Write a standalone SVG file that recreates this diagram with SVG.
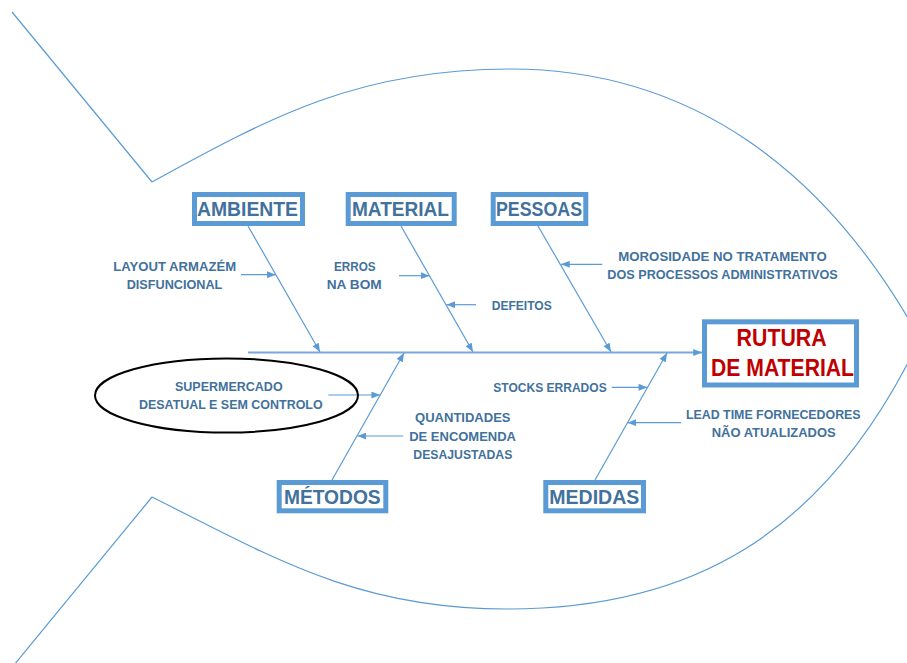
<svg xmlns="http://www.w3.org/2000/svg" width="907" height="663" viewBox="0 0 907 663">
  <defs>
    <marker id="arrow" viewBox="0 0 10 8" refX="10" refY="4" markerWidth="9" markerHeight="7" markerUnits="userSpaceOnUse" orient="auto">
      <path d="M0,0 L10,4 L0,8 z" fill="#5b9bd5"/>
    </marker>
    <style>
      .fish { fill: none; stroke: #5b9bd5; stroke-width: 1.2; }
      .spine { fill: none; stroke: #7aa7dc; stroke-width: 2; }
      .bone { fill: none; stroke: #5b9bd5; stroke-width: 1.2; }
      .cat { fill: #ffffff; stroke: #5b9bd5; stroke-width: 5; }
      .cat-text { font-family: "Liberation Sans", Arial, sans-serif; font-weight: bold; font-size: 20px; fill: #41719c; text-anchor: middle; }
      .head-text { font-family: "Liberation Sans", Arial, sans-serif; font-weight: bold; font-size: 23px; fill: #c00000; text-anchor: middle; }
      .cause { font-family: "Liberation Sans", Arial, sans-serif; font-weight: bold; font-size: 13px; fill: #41719c; text-anchor: middle; }
      .ring { fill: none; stroke: #000000; stroke-width: 2; }
    </style>
  </defs>

  <rect width="907" height="663" fill="#ffffff"/>

  <!-- fish outline: tail and body -->
  <g id="fish-outline">
    <path class="fish" d="M12,12 L152,182"/>
    <path class="fish" d="M152,497 L14,665"/>
    <path class="fish" d="M152,182 C272,116 360,69 510,69 C690,69 826,169 920,339 C824,539 687,609 507,609 C357,609 272,557 152,497"/>
  </g>

  <!-- connectors -->
  <g id="connectors">
    <line class="spine" x1="248" y1="352.5" x2="702" y2="352.5" marker-end="url(#arrow)"/>
    <line class="bone" x1="248" y1="226" x2="320" y2="352" marker-end="url(#arrow)"/>
    <line class="bone" x1="401" y1="226" x2="473" y2="352" marker-end="url(#arrow)"/>
    <line class="bone" x1="538" y1="226" x2="611" y2="352" marker-end="url(#arrow)"/>
    <line class="bone" x1="332" y1="480" x2="404" y2="353" marker-end="url(#arrow)"/>
    <line class="bone" x1="595" y1="480" x2="667" y2="353" marker-end="url(#arrow)"/>
    <line class="bone" x1="241" y1="274.7" x2="275.8" y2="274.7" marker-end="url(#arrow)"/>
    <line class="bone" x1="399" y1="275.7" x2="429.4" y2="275.7" marker-end="url(#arrow)"/>
    <line class="bone" x1="476" y1="304.7" x2="446.5" y2="304.7" marker-end="url(#arrow)"/>
    <line class="bone" x1="602.3" y1="264.3" x2="561" y2="264.3" marker-end="url(#arrow)"/>
    <line class="bone" x1="328.3" y1="395" x2="380.2" y2="395" marker-end="url(#arrow)"/>
    <line class="bone" x1="403.3" y1="436" x2="357.5" y2="436" marker-end="url(#arrow)"/>
    <line class="bone" x1="611.7" y1="387.3" x2="647.3" y2="387.3" marker-end="url(#arrow)"/>
    <line class="bone" x1="681" y1="422.7" x2="627.6" y2="422.7" marker-end="url(#arrow)"/>
  </g>

  <!-- category boxes -->
  <g id="ambiente">
    <rect class="cat" x="194.5" y="194.5" width="108" height="29"/>
    <text class="cat-text" x="247.5" y="216" textLength="101" lengthAdjust="spacingAndGlyphs">AMBIENTE</text>
  </g>
  <g id="material">
    <rect class="cat" x="348.2" y="194.5" width="106" height="29"/>
    <text class="cat-text" x="400.5" y="216" textLength="97" lengthAdjust="spacingAndGlyphs">MATERIAL</text>
  </g>
  <g id="pessoas">
    <rect class="cat" x="493.2" y="194.5" width="92.6" height="29"/>
    <text class="cat-text" x="539" y="216" textLength="86" lengthAdjust="spacingAndGlyphs">PESSOAS</text>
  </g>
  <g id="metodos">
    <rect class="cat" x="279.2" y="482.5" width="106.6" height="28.3"/>
    <text class="cat-text" x="332.3" y="504" textLength="96.7" lengthAdjust="spacingAndGlyphs">MÉTODOS</text>
  </g>
  <g id="medidas">
    <rect class="cat" x="545.8" y="482.5" width="97.7" height="28.3"/>
    <text class="cat-text" x="594.3" y="504" textLength="90" lengthAdjust="spacingAndGlyphs">MEDIDAS</text>
  </g>

  <!-- effect (fish head) -->
  <g id="rutura">
    <rect class="cat" x="704.5" y="321.8" width="152" height="63.2"/>
    <text class="head-text" x="781.6" y="346" textLength="90" lengthAdjust="spacingAndGlyphs">RUTURA</text>
    <text class="head-text" x="782.5" y="376" textLength="143" lengthAdjust="spacingAndGlyphs">DE MATERIAL</text>
  </g>

  <!-- causes -->
  <g id="cause-layout">
    <text class="cause" x="174.7" y="270.7" textLength="122.7" lengthAdjust="spacingAndGlyphs">LAYOUT ARMAZÉM</text>
    <text class="cause" x="174.5" y="289" textLength="95.6" lengthAdjust="spacingAndGlyphs">DISFUNCIONAL</text>
  </g>
  <g id="cause-erros">
    <text class="cause" x="354.8" y="270.7" textLength="41.7" lengthAdjust="spacingAndGlyphs">ERROS</text>
    <text class="cause" x="354.2" y="289.3" textLength="55" lengthAdjust="spacingAndGlyphs">NA BOM</text>
  </g>
  <g id="cause-defeitos">
    <text class="cause" x="521.7" y="310" textLength="60" lengthAdjust="spacingAndGlyphs">DEFEITOS</text>
  </g>
  <g id="cause-morosidade">
    <text class="cause" x="722.5" y="260.7" textLength="208.4" lengthAdjust="spacingAndGlyphs">MOROSIDADE NO TRATAMENTO</text>
    <text class="cause" x="722.5" y="279" textLength="230.4" lengthAdjust="spacingAndGlyphs">DOS PROCESSOS ADMINISTRATIVOS</text>
  </g>
  <g id="cause-supermercado">
    <ellipse class="ring" cx="226.5" cy="395.5" rx="131.5" ry="37"/>
    <text class="cause" x="228.8" y="390.7" textLength="107.7" lengthAdjust="spacingAndGlyphs">SUPERMERCADO</text>
    <text class="cause" x="230.8" y="409" textLength="183.7" lengthAdjust="spacingAndGlyphs">DESATUAL E SEM CONTROLO</text>
  </g>
  <g id="cause-quantidades">
    <text class="cause" x="462.8" y="421.7" textLength="95.5" lengthAdjust="spacingAndGlyphs">QUANTIDADES</text>
    <text class="cause" x="462.6" y="441" textLength="106.8" lengthAdjust="spacingAndGlyphs">DE ENCOMENDA</text>
    <text class="cause" x="462.8" y="458.5" textLength="99" lengthAdjust="spacingAndGlyphs">DESAJUSTADAS</text>
  </g>
  <g id="cause-stocks">
    <text class="cause" x="550" y="392.3" textLength="113.4" lengthAdjust="spacingAndGlyphs">STOCKS ERRADOS</text>
  </g>
  <g id="cause-leadtime">
    <text class="cause" x="773.3" y="419.3" textLength="174.7" lengthAdjust="spacingAndGlyphs">LEAD TIME FORNECEDORES</text>
    <text class="cause" x="773.7" y="436.7" textLength="124" lengthAdjust="spacingAndGlyphs">NÃO ATUALIZADOS</text>
  </g>
</svg>
